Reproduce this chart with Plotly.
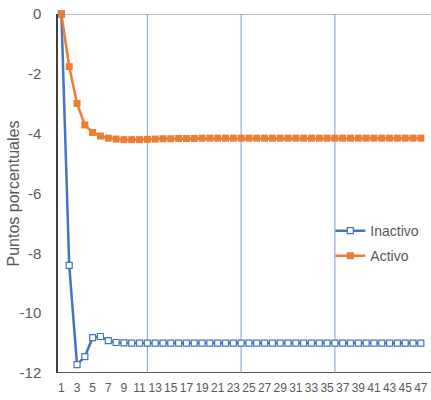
import plotly.graph_objects as go

periods = list(range(1, 48))
inactivo = [0, -8.40, -11.72, -11.45, -10.82, -10.78, -10.92, -10.98, -10.99, -11.0,
            -11.0, -11.0, -11.0, -11.0, -11.0, -11.0, -11.0, -11.0, -11.0, -11.0,
            -11.0, -11.0, -11.0, -11.0, -11.0, -11.0, -11.0, -11.0, -11.0, -11.0,
            -11.0, -11.0, -11.0, -11.0, -11.0, -11.0, -11.0, -11.0, -11.0, -11.0,
            -11.0, -11.0, -11.0, -11.0, -11.0, -11.0, -11.0]
activo = [0, -1.76, -2.99, -3.71, -3.96, -4.08, -4.15, -4.18, -4.20, -4.20,
          -4.20, -4.19, -4.18, -4.17, -4.17, -4.16, -4.16, -4.16, -4.15, -4.15,
          -4.15, -4.15, -4.15, -4.15, -4.15, -4.15, -4.15, -4.15, -4.15, -4.15,
          -4.15, -4.15, -4.15, -4.15, -4.15, -4.15, -4.15, -4.15, -4.15, -4.15,
          -4.15, -4.15, -4.15, -4.15, -4.15, -4.15, -4.15]
gridline_periods = [12, 24, 36]
y_ticks = [0, -2, -4, -6, -8, -10, -12]
y_title = "Puntos porcentuales"

BLUE = "#4472c4"
ORANGE = "#ed7d31"
TXT = "#595959"
FONT = "Liberation Sans Narrow, Liberation Sans, Arial, sans-serif"

fig = go.Figure()
fig.add_trace(go.Scatter(
    x=periods, y=inactivo, name="Inactivo", mode="lines+markers",
    legendgroup="a",
    line=dict(color=BLUE, width=2.5),
    marker=dict(symbol="square", size=6, color="white",
                line=dict(color=BLUE, width=1.2)),
    cliponaxis=False))
fig.add_trace(go.Scatter(
    x=periods, y=activo, name="Activo", mode="lines+markers",
    legendgroup="b",
    line=dict(color=ORANGE, width=2.5),
    marker=dict(symbol="square", size=7, color=ORANGE),
    cliponaxis=False))

for g in gridline_periods:
    fig.add_shape(type="line", xref="x", yref="y", x0=g, x1=g, y0=0, y1=-12,
                  line=dict(color="#7f9dd4", width=1), layer="below")

# top line at 0 and bottom axis line at -12
fig.add_shape(type="line", xref="paper", yref="y", x0=0, x1=1, y0=0, y1=0,
              line=dict(color="#bfbfbf", width=2), layer="below")
fig.add_shape(type="line", xref="paper", yref="y", x0=0, x1=1, y0=-12, y1=-12,
              line=dict(color="#595959", width=2), layer="below")

fig.add_annotation(text=y_title, xref="paper", yref="paper",
                   x=-0.118, y=0.5, xanchor="center", yanchor="middle",
                   textangle=-90, showarrow=False,
                   font=dict(size=16, color=TXT, family=FONT))

fig.update_layout(
    width=431, height=400,
    margin=dict(l=58, r=0, t=14, b=27),
    paper_bgcolor="white", plot_bgcolor="white",
    font=dict(family=FONT, color=TXT, size=14),
    showlegend=True,
    legend=dict(x=0.73, y=0.44, xanchor="left", yanchor="top",
                bgcolor="rgba(0,0,0,0)", font=dict(size=14, color=TXT),
                traceorder="grouped", tracegroupgap=4),
    xaxis=dict(range=[0.565, 48.3], tickmode="linear", tick0=1, dtick=2,
               showgrid=False, zeroline=False, showline=False,
               ticks="", ticklabelstandoff=6, tickangle=0, automargin=False,
               tickfont=dict(size=12, color=TXT)),
    yaxis=dict(range=[-12, 0], tickvals=y_ticks, ticktext=[str(v) for v in y_ticks],
               showgrid=False, zeroline=False, showline=True, linecolor="#404040",
               linewidth=1.5, ticks="", ticklabelstandoff=12, automargin=False,
               tickfont=dict(size=15, color=TXT)),
)

fig.write_html("out.html", config={"displayModeBar": False},
               post_script="document.body.style.margin='0';document.body.style.overflow='hidden';")
